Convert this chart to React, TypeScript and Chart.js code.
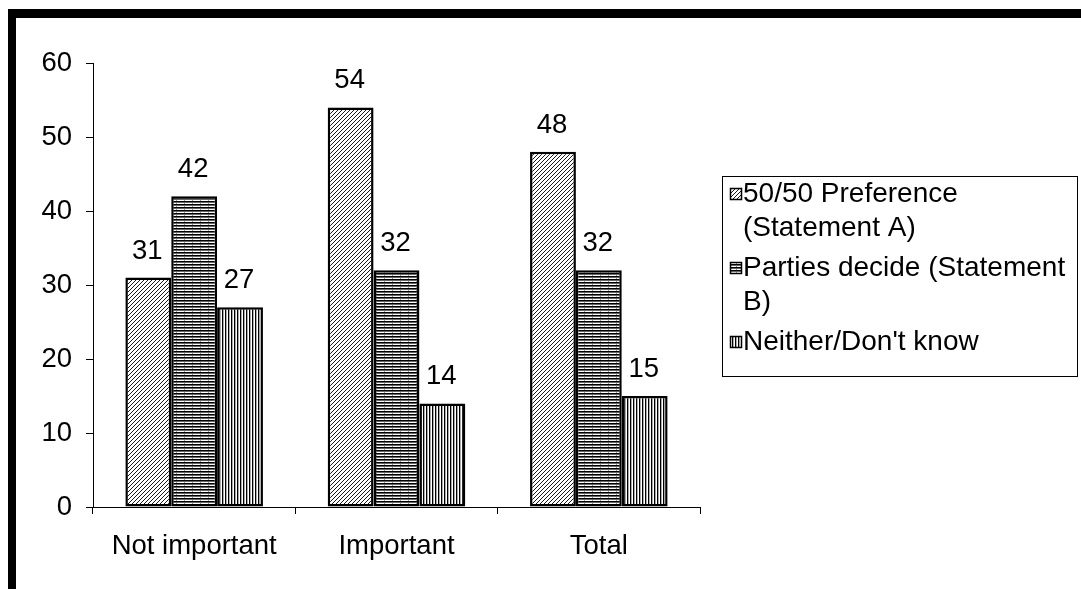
import React, { useEffect, useRef } from 'react';
import { Chart, registerables } from 'chart.js';

Chart.register(...registerables);

// Categories and series values
const categories = ['Not important', 'Important', 'Total'];
const preferenceA = [31, 54, 48];
const partiesB = [42, 32, 32];
const neitherDontKnow = [27, 14, 15];
const seriesLabels = ['50/50 Preference (Statement A)', 'Parties decide (Statement B)', "Neither/Don't know"];
// Legend text, wrapped as it is laid out in the legend box
const legendLines = [
  ['50/50 Preference', '(Statement A)'],
  ['Parties decide (Statement', 'B)'],
  ["Neither/Don't know"],
];
const yMin = 0;
const yMax = 60;
const yStep = 10;

const FONT = "'Liberation Sans', Arial, sans-serif";

function makeTile(w: number, h: number, draw: (c: CanvasRenderingContext2D) => void): CanvasPattern {
  const tile = document.createElement('canvas');
  tile.width = w;
  tile.height = h;
  const c = tile.getContext('2d')!;
  c.fillStyle = '#fff';
  c.fillRect(0, 0, w, h);
  draw(c);
  return c.createPattern(tile, 'repeat')!;
}

// Fine forward-slash hatch
function diagonalHatch() {
  return makeTile(4, 4, (c) => {
    c.strokeStyle = '#000';
    c.lineWidth = 0.9;
    c.beginPath();
    c.moveTo(0, 4); c.lineTo(4, 0);
    c.moveTo(-1, 1); c.lineTo(1, -1);
    c.moveTo(3, 5); c.lineTo(5, 3);
    c.stroke();
  });
}

// Horizontal lines with faint dashed verticals
function horizontalHatch() {
  return makeTile(8, 3, (c) => {
    c.fillStyle = '#000';
    c.fillRect(0, 0, 8, 1);
    c.fillStyle = '#666';
    c.fillRect(0, 1, 8, 1);
    c.fillStyle = '#999';
    c.fillRect(0, 2, 1, 1);
  });
}

// Vertical lines
function verticalHatch() {
  return makeTile(3, 4, (c) => {
    c.fillStyle = '#000';
    c.fillRect(0, 0, 1, 4);
    c.fillStyle = '#aaa';
    c.fillRect(1, 0, 1, 4);
  });
}

const valueLabels = {
  id: 'valueLabels',
  afterDatasetsDraw(chart: any) {
    const ctx = chart.ctx as CanvasRenderingContext2D;
    ctx.save();
    ctx.font = `27.5px ${FONT}`;
    ctx.fillStyle = '#000';
    ctx.textAlign = 'center';
    ctx.textBaseline = 'alphabetic';
    chart.data.datasets.forEach((ds: any, i: number) => {
      chart.getDatasetMeta(i).data.forEach((bar: any, j: number) => {
        ctx.fillText(String(ds.data[j]), bar.x - 1, bar.y - 19);
      });
    });
    ctx.restore();
  },
};

const boxLegend = {
  id: 'boxLegend',
  afterDraw(chart: any) {
    const ctx = chart.ctx as CanvasRenderingContext2D;
    const left = 722.5;
    const top = 176.5;
    const width = 355;
    const height = 200;
    ctx.save();
    ctx.fillStyle = '#fff';
    ctx.fillRect(left, top, width, height);
    ctx.strokeStyle = '#000';
    ctx.lineWidth = 1;
    ctx.strokeRect(left, top, width, height);
    ctx.font = `28px ${FONT}`;
    ctx.textAlign = 'left';
    ctx.textBaseline = 'middle';
    let y = 194;
    chart.data.datasets.forEach((ds: any, i: number) => {
      ctx.fillStyle = ds.backgroundColor;
      ctx.fillRect(730, y - 6, 12, 12);
      ctx.strokeStyle = '#000';
      ctx.lineWidth = 1.5;
      ctx.strokeRect(730.5, y - 5.5, 11, 11);
      ctx.fillStyle = '#000';
      const lines = legendLines[i];
      lines.forEach((t, k) => ctx.fillText(t, 743, y + k * 34));
      y += (lines.length - 1) * 34 + 40;
    });
    ctx.restore();
  },
};

export default function App() {
  const ref = useRef<HTMLCanvasElement>(null);

  useEffect(() => {
    const canvas = ref.current;
    if (!canvas) return;
    const fills = [diagonalHatch(), horizontalHatch(), verticalHatch()];
    const values = [preferenceA, partiesB, neitherDontKnow];
    const chart = new Chart(canvas, {
      type: 'bar',
      data: {
        labels: categories,
        datasets: values.map((data, i) => ({
          label: seriesLabels[i],
          data,
          backgroundColor: fills[i] as any,
          borderColor: '#000',
          borderWidth: 2.5,
          borderSkipped: false,
          barPercentage: 1,
          categoryPercentage: 0.68,
        })),
      },
      options: {
        animation: false,
        responsive: false,
        devicePixelRatio: 1,
        layout: { padding: { top: 63, right: 381, bottom: 0, left: 0 } },
        plugins: {
          legend: { display: false },
          tooltip: { enabled: false },
        },
        scales: {
          x: {
            grid: { drawOnChartArea: false, drawTicks: true, tickLength: 7, color: '#000', offset: true },
            border: { color: '#000', width: 1 },
            ticks: { color: '#000', font: { family: FONT, size: 27.5 }, padding: 16, maxRotation: 0 },
            afterFit: (s: any) => { s.height = 82; },
          },
          y: {
            min: yMin,
            max: yMax,
            grid: { drawOnChartArea: false, drawTicks: true, tickLength: 7, color: '#000' },
            border: { color: '#000', width: 1 },
            ticks: { stepSize: yStep, color: '#000', font: { family: FONT, size: 27.5 }, padding: 14 },
            afterFit: (s: any) => { s.width = 93; },
          },
        },
      },
      plugins: [valueLabels, boxLegend],
    });
    return () => chart.destroy();
  }, []);

  return (
    <div style={{ position: 'fixed', left: 0, top: 0, width: 1081, height: 589, background: '#fff', overflow: 'hidden' }}>
      <div
        style={{
          position: 'absolute', left: 8, top: 9, right: 0, bottom: 0,
          borderTop: '9px solid #000', borderLeft: '8px solid #000',
        }}
      />
      <canvas ref={ref} width={1081} height={589} style={{ position: 'absolute', left: 0, top: 0, width: 1081, height: 589 }} />
    </div>
  );
}
